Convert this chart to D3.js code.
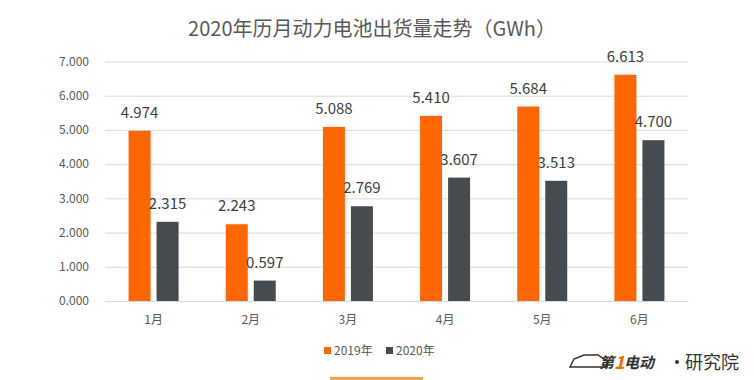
<!DOCTYPE html>
<html><head><meta charset="utf-8">
<script src="https://cdn.jsdelivr.net/npm/d3@7"></script>
<style>body{margin:0;background:#fff}svg{display:block}</style>
</head><body>
<script>
const months = ["1月","2月","3月","4月","5月","6月"];
const series = ["2019年","2020年"];
const v2019 = [4.974, 2.243, 5.088, 5.410, 5.684, 6.613];
const v2020 = [2.315, 0.597, 2.769, 3.607, 3.513, 4.700];
const yTicks = [0,1,2,3,4,5,6,7];
const colors = ["#FF6600","#464B4F"];
const title = "2020年历月动力电池出货量走势（GWh）";

const W=754,H=380;
const font = "'Noto Sans CJK SC','Microsoft YaHei',sans-serif";
const svg=d3.select("body").append("svg").attr("width",W).attr("height",H).style("font-family",font);
const m={l:105,r:66,t:61.5,b:79};
const x=d3.scaleBand().domain(months).range([m.l,W-m.r]);
const y=d3.scaleLinear().domain([0,7]).range([H-m.b,m.t]);
const bw=22,gap=6;

svg.append("text").attr("x",372).attr("y",36).attr("text-anchor","middle")
  .attr("font-size",20).attr("fill","#595959").text(title);

// grid
const ya=svg.append("g").attr("transform",`translate(${m.l},0)`)
  .call(d3.axisLeft(y).tickValues(yTicks).tickFormat(d3.format(".3f")).tickSize(-(W-m.r-m.l)).tickPadding(16));
ya.select(".domain").remove();
ya.selectAll(".tick line").attr("stroke","#d9d9d9");
ya.selectAll(".tick text").attr("fill","#595959").attr("font-size",12).attr("font-family",font);

const xa=svg.append("g").attr("transform",`translate(0,${H-m.b})`)
  .call(d3.axisBottom(x).tickSize(0).tickPadding(14));
xa.select(".domain").attr("stroke","#d9d9d9");
xa.selectAll(".tick text").attr("fill","#595959").attr("font-size",12).attr("font-family",font);

const data=[v2019,v2020];
data.forEach((vals,si)=>{
  const off = si===0 ? -gap/2-bw : gap/2;
  const g=svg.append("g");
  g.selectAll("rect").data(vals).join("rect")
    .attr("x",(d,i)=>x(months[i])+x.bandwidth()/2+off)
    .attr("width",bw)
    .attr("y",d=>y(d)).attr("height",d=>y(0)-y(d))
    .attr("fill",colors[si]);
  g.selectAll("text").data(vals).join("text")
    .attr("x",(d,i)=>x(months[i])+x.bandwidth()/2+off+bw/2)
    .attr("y",d=>y(d)-13)
    .attr("text-anchor","middle").attr("font-size",15).attr("fill","#404040")
    .text(d=>d3.format(".3f")(d));
});

// legend
const lg=svg.append("g");
const lx=[324,386];
series.forEach((s,i)=>{
  lg.append("rect").attr("x",lx[i]).attr("y",347).attr("width",7).attr("height",7).attr("fill",colors[i]);
  lg.append("text").attr("x",lx[i]+10).attr("y",355).attr("font-size",12).attr("fill","#595959").text(s);
});
svg.append("rect").attr("x",330).attr("y",377).attr("width",93).attr("height",3).attr("fill","#F5A24B");

// brand mark
svg.append("path").attr("d","M570,367 L574,359 L584,355 L598,355 L607,361 L607,367 Z")
  .attr("fill","none").attr("stroke","#333").attr("stroke-width",1.5);
svg.append("text").attr("x",599).attr("y",368).attr("font-size",15).attr("font-weight","bold")
  .attr("font-style","italic").attr("fill","#333").text("第");
svg.append("text").attr("x",614).attr("y",369).attr("font-size",18).attr("font-weight","bold")
  .attr("font-style","italic").attr("fill","#FF6600").text("1");
svg.append("text").attr("x",624).attr("y",368).attr("font-size",15).attr("font-weight","bold")
  .attr("font-style","italic").attr("fill","#333").text("电动");
svg.append("circle").attr("cx",677).attr("cy",362).attr("r",2).attr("fill","#333");
svg.append("text").attr("x",685).attr("y",369).attr("font-size",18).attr("fill","#333").text("研究院");
</script>
</body></html>
